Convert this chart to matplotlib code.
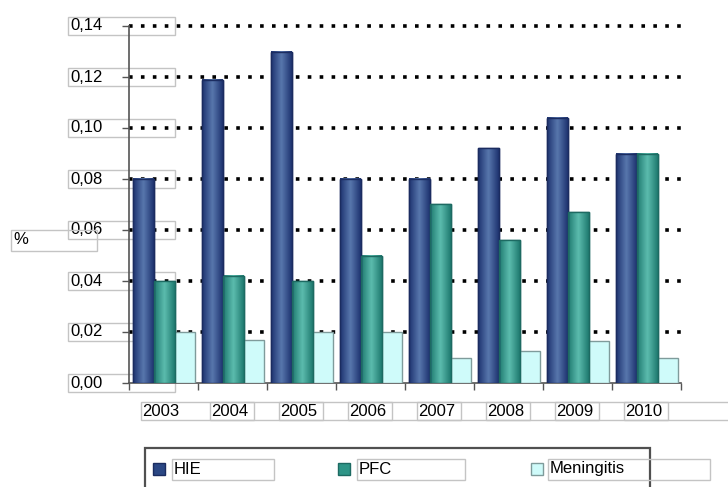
import matplotlib
matplotlib.use("Agg")
import matplotlib.pyplot as plt
import matplotlib.transforms as mtransforms
from matplotlib.patches import Rectangle
import numpy as np

plt.rcParams["font.family"] = ["Liberation Sans", "DejaVu Sans"]

years = ["2003", "2004", "2005", "2006", "2007", "2008", "2009", "2010"]
hie = [0.080, 0.119, 0.130, 0.080, 0.080, 0.092, 0.104, 0.090]
pfc = [0.040, 0.042, 0.040, 0.050, 0.070, 0.056, 0.067, 0.090]
meningitis = [0.020, 0.017, 0.020, 0.020, 0.010, 0.0125, 0.0165, 0.010]
series_names = ["HIE", "PFC", "Meningitis"]
y_ticks = [0.00, 0.02, 0.04, 0.06, 0.08, 0.10, 0.12, 0.14]

W, H = 728, 487
fig = plt.figure(figsize=(W / 100, H / 100), dpi=100)
ax = fig.add_axes([129 / W, 1 - 383 / H, 552 / W, 357 / H])

# face colour, edge colour, gradient (dark, light)
styles = [
    ("#2b4784", "#1b2c60", ("#1e3370", "#5877ad")),
    ("#2e9587", "#1d6a62", ("#1f7a70", "#5cbcae")),
    ("#cffbfa", "#7f9b9b", None),
]

x = np.arange(len(years))
w = 0.3
for k, vals in enumerate([hie, pfc, meningitis]):
    face, edge, grad = styles[k]
    xs = x + (k - 1) * w + 0.01
    bars = ax.bar(xs, vals, width=w, color=face, edgecolor=edge,
                  linewidth=1.0, zorder=3)
    if grad is not None:
        cmap = matplotlib.colors.LinearSegmentedColormap.from_list(
            "g", [grad[0], grad[1], grad[0]])
        g = np.linspace(0, 1, 64)[None, :]
        for b in bars:
            bx, bw, bh = b.get_x(), b.get_width(), b.get_height()
            ax.imshow(g, extent=(bx, bx + bw, 0, bh), aspect="auto",
                      cmap=cmap, zorder=3.5, interpolation="bilinear")
            ax.add_patch(Rectangle((bx, 0), bw, bh, fill=False,
                                   edgecolor=edge, lw=1.0, zorder=4))

ax.set_xlim(-0.5, len(years) - 0.5)
ax.set_ylim(0, 0.14)

# dotted gridlines
for yv in y_ticks[1:]:
    ax.axhline(yv, color="black", lw=2.6, linestyle=(0, (1, 2.3)),
               dash_capstyle="butt", zorder=1, clip_on=False)

for s in ["top", "right"]:
    ax.spines[s].set_visible(False)
for s in ["left", "bottom"]:
    ax.spines[s].set_color("#555555")
    ax.spines[s].set_linewidth(1.2)

ax.set_yticks(y_ticks)
ax.set_yticklabels([])
ax.set_xticks(np.arange(len(years) + 1) - 0.5)
ax.set_xticklabels([])
ax.tick_params(axis="both", direction="out", length=5, color="#555555", width=1)

box_kw = dict(fill=False, edgecolor="#c4c4c4", lw=1.0, clip_on=False)

# y tick labels in boxes
ytrans = mtransforms.blended_transform_factory(ax.transAxes, ax.transData)
bx0 = (68 - 129) / 552
bx1 = (175 - 129) / 552
hh = 9 / 357 * 0.14
for yv in y_ticks:
    ax.add_patch(Rectangle((bx0, yv - hh), bx1 - bx0, 2 * hh,
                           transform=ytrans, **box_kw))
    ax.text(bx0 + 2 / 552, yv, f"{yv:.2f}".replace(".", ","),
            transform=ytrans, ha="left", va="center", fontsize=12)

# axis unit label
fig.add_artist(Rectangle((11 / W, 1 - 251 / H), 86 / W, 21 / H,
                         transform=fig.transFigure, **box_kw))
fig.text(13 / W, 1 - 240 / H, "%", ha="left", va="center", fontsize=12)

# x tick labels in boxes
xtrans = mtransforms.blended_transform_factory(ax.transData, fig.transFigure)
cat_px = 552 / len(years)
for i, yr in enumerate(years):
    left = i - 23 / cat_px
    ax.add_patch(Rectangle((left, 1 - 420 / H), 113 / cat_px, 18 / H,
                           transform=xtrans, **box_kw))
    ax.text(left + 2 / cat_px, 1 - 411 / H, yr, transform=xtrans,
            ha="left", va="center", fontsize=12)

# legend
fig.add_artist(Rectangle((145 / W, -0.05), 505 / W, 0.05 + 1 - 448 / H,
                         transform=fig.transFigure, fill=False,
                         edgecolor="#505050", lw=1.6))
leg_items = [(153, 172, 102), (338, 357, 108), (531, 548, 162)]
for (sx, tx, tw), name, (face, edge, grad) in zip(leg_items, series_names, styles):
    fig.add_artist(Rectangle((sx / W, 1 - 475 / H), 12 / W, 12 / H,
                             transform=fig.transFigure, facecolor=face,
                             edgecolor=edge, lw=1.0))
    fig.add_artist(Rectangle((tx / W, 1 - 480 / H), tw / W, 21 / H,
                             transform=fig.transFigure, **box_kw))
    fig.text((tx + 2) / W, 1 - 469 / H, name, ha="left", va="center",
             fontsize=12)

fig.savefig("out.png", dpi=100)
